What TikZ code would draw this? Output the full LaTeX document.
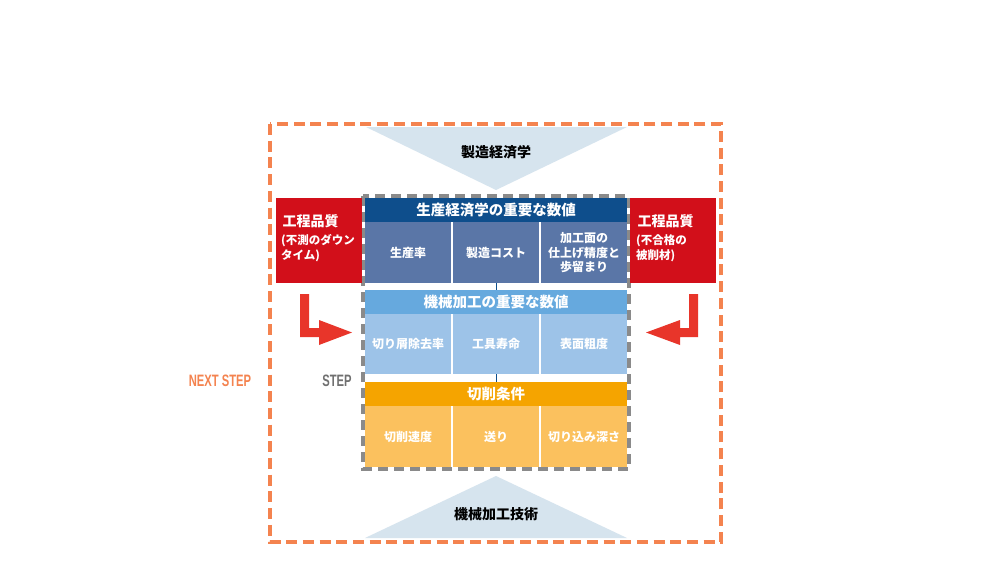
\documentclass[tikz,border=0pt]{standalone}
\usepackage{fontspec}
\setmainfont{Noto Sans CJK JP}
\newfontfamily\latinsans{Liberation Sans}
\definecolor{hdark}{HTML}{0E4E8C}
\definecolor{cdark}{HTML}{5A76A7}
\definecolor{hmid}{HTML}{66A9DE}
\definecolor{cmid}{HTML}{9DC3E8}
\definecolor{horg}{HTML}{F5A400}
\definecolor{corg}{HTML}{FBC15E}
\definecolor{redbox}{HTML}{D20F1A}
\definecolor{redarrow}{HTML}{E8352A}
\definecolor{triblue}{HTML}{D6E4EE}
\definecolor{orline}{HTML}{F4834F}
\definecolor{grline}{HTML}{8A8A8A}
\definecolor{steptxt}{HTML}{707070}
\tikzset{
  hdr/.style={anchor=north west, minimum width=262pt, minimum height=24pt, inner sep=0pt,
    text=white, font=\fontsize{14.5}{16}\selectfont\bfseries},
  cellbox/.style={anchor=north west, minimum width=86pt, inner sep=0pt, text=white,
    align=center, font=\fontsize{12}{14.5}\selectfont\bfseries},
  redcard/.style={anchor=north west, fill=redbox, minimum width=86pt, minimum height=85pt, inner sep=0pt},
  redtitle/.style={anchor=west, text=white, font=\fontsize{14}{16}\selectfont\bfseries},
  redsub/.style={anchor=north west, text=white, align=left, inner sep=0pt, font=\fontsize{11.5}{15}\selectfont\bfseries},
  tritext/.style={text=black, font=\fontsize{14}{16}\selectfont\bfseries},
  link/.style={draw=hdark, line width=1pt},
  bigarrow/.style={fill=redarrow, draw=none},
}
\begin{document}
\begin{tikzpicture}[x=1pt,y=-1pt]
\useasboundingbox (0,0) rectangle (1000,575);
\fill[white] (0,0) rectangle (1000,575);
% outer dashed frame
\draw[orline, line width=3.4pt, dash pattern=on 11pt off 5.7pt] (270,124) rectangle (721,542);
% triangles
\fill[triblue] (366,127) -- (627,127) -- (496,190) -- cycle;
\node[tritext] (topt) at (496,152) {製造経済学};
\fill[triblue] (365,538) -- (627,538) -- (496,476) -- cycle;
\node[tritext] (bott) at (496,514) {機械加工技術};
% level 1
\node[hdr, fill=hdark] (h1) at (365,198) {生産経済学の重要な数値};
\node[cellbox, fill=cdark, minimum height=61pt] (c11) at (365,222) {生産率};
\node[cellbox, fill=cdark, minimum height=61pt] (c12) at (453,222) {製造コスト};
\node[cellbox, fill=cdark, minimum height=61pt] (c13) at (541,222) {加工面の\\仕上げ精度と\\歩留まり};
% level 2
\node[hdr, fill=hmid] (h2) at (365,290) {機械加工の重要な数値};
\node[cellbox, fill=cmid, minimum height=60pt] (c21) at (365,314) {切り屑除去率};
\node[cellbox, fill=cmid, minimum height=60pt] (c22) at (453,314) {工具寿命};
\node[cellbox, fill=cmid, minimum height=60pt] (c23) at (541,314) {表面粗度};
% level 3
\node[hdr, fill=horg] (h3) at (365,382) {切削条件};
\node[cellbox, fill=corg, minimum height=61pt] (c31) at (365,406) {切削速度};
\node[cellbox, fill=corg, minimum height=61pt] (c32) at (453,406) {送り};
\node[cellbox, fill=corg, minimum height=61pt] (c33) at (541,406) {切り込み深さ};
% connectors
\draw[link] (c12.south) -- (h2.north);
\draw[link] (c22.south) -- (h3.north);
% inner dashed frame
\draw[grline, line width=3.2pt, dash pattern=on 10pt off 6pt] (363,196) rectangle (629,469);
% red cards
\node[redcard] (rl) at (276,198) {};
\node[redtitle] (rlt) at (279,221) {工程品質};
\node[redsub] (rls) at (281,234) {(不測のダウン\\タイム)};
\node[redcard] (rr) at (630,198) {};
\node[redtitle] (rrt) at (634,221) {工程品質};
\node[redsub] (rrs) at (636,234) {(不合格の\\被削材)};
% arrows
\fill[bigarrow] (300,294) -- (309,294) -- (309,328) -- (319,328) -- (319,320) -- (352,332.5)
  -- (319,345) -- (319,337) -- (300,337) -- cycle;
\fill[bigarrow] (698,294) -- (689,294) -- (689,328) -- (680,328) -- (680,320) -- (646,332.5)
  -- (680,345) -- (680,337) -- (698,337) -- cycle;
% step labels
\node[text=orline, font=\latinsans\fontsize{16.5}{18}\selectfont\bfseries] (ns) at (220,381) {\scalebox{0.68}[1]{NEXT STEP}};
\node[text=steptxt, font=\latinsans\fontsize{16.5}{18}\selectfont\bfseries] (st) at (337,381) {\scalebox{0.68}[1]{STEP}};
\end{tikzpicture}
\end{document}
